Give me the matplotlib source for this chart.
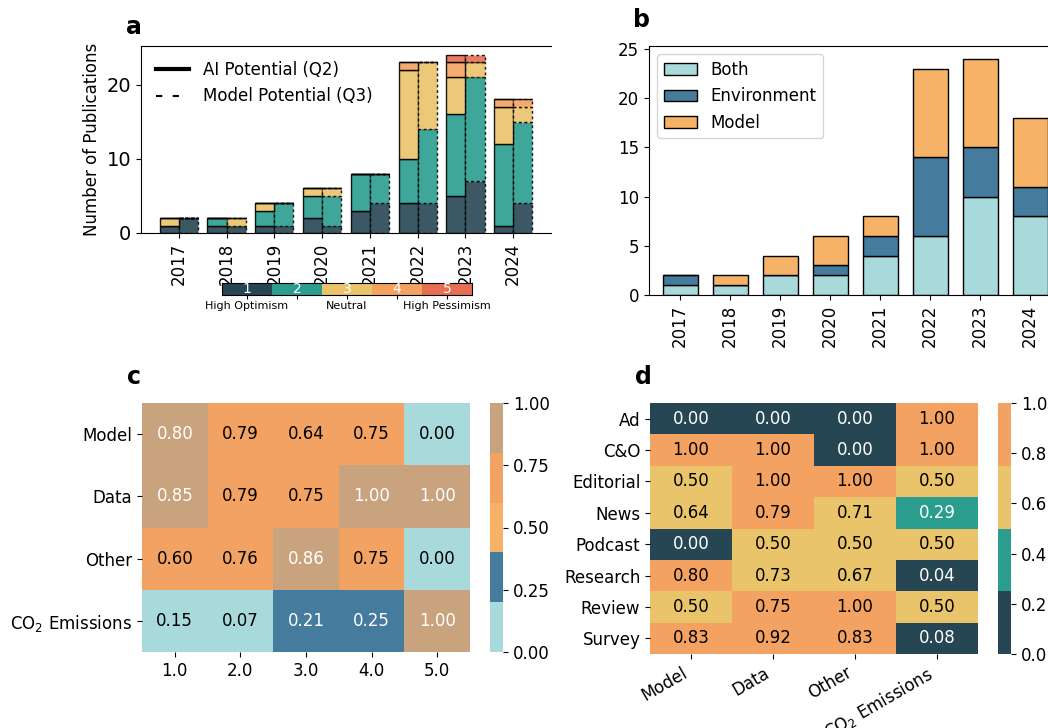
import numpy as np
import matplotlib
matplotlib.use("Agg")
import matplotlib.pyplot as plt
from matplotlib.colors import ListedColormap
from matplotlib.lines import Line2D

plt.rcParams['font.family'] = ['DejaVu Sans']
plt.rcParams['font.size'] = 12

# ---- data ----
years = [2017, 2018, 2019, 2020, 2021, 2022, 2023, 2024]

# panel a: counts per sentiment level (1..5)
ai_q2_1 = [1, 1, 1, 2, 3, 4, 5, 1]
ai_q2_2 = [0, 1, 2, 3, 5, 6, 11, 11]
ai_q2_3 = [1, 0, 1, 1, 0, 12, 5, 5]
ai_q2_4 = [0, 0, 0, 0, 0, 1, 2, 1]
ai_q2_5 = [0, 0, 0, 0, 0, 0, 1, 0]

model_q3_1 = [2, 1, 1, 1, 4, 4, 7, 4]
model_q3_2 = [0, 0, 3, 4, 4, 10, 14, 11]
model_q3_3 = [0, 1, 0, 1, 0, 9, 2, 2]
model_q3_4 = [0, 0, 0, 0, 0, 0, 0, 1]
model_q3_5 = [0, 0, 0, 0, 0, 0, 1, 0]

sentiment_levels = [1, 2, 3, 4, 5]
sentiment_labels = ['High Optimism', '', 'Neutral', '', 'High Pessimism']

# panel b
focus_both = [1, 1, 2, 2, 4, 6, 10, 8]
focus_env = [1, 0, 0, 1, 2, 8, 5, 3]
focus_model = [0, 1, 2, 3, 2, 9, 9, 7]

# panel c
c_rows = ['Model', 'Data', 'Other', 'CO$_2$ Emissions']
c_cols = ['1.0', '2.0', '3.0', '4.0', '5.0']
c_model = [0.80, 0.79, 0.64, 0.75, 0.00]
c_data = [0.85, 0.79, 0.75, 1.00, 1.00]
c_other = [0.60, 0.76, 0.86, 0.75, 0.00]
c_co2 = [0.15, 0.07, 0.21, 0.25, 1.00]

# panel d
d_rows = ['Ad', 'C&O', 'Editorial', 'News', 'Podcast', 'Research', 'Review', 'Survey']
d_cols = ['Model', 'Data', 'Other', 'CO$_2$ Emissions']
d_ad = [0.00, 0.00, 0.00, 1.00]
d_co = [1.00, 1.00, 0.00, 1.00]
d_editorial = [0.50, 1.00, 1.00, 0.50]
d_news = [0.64, 0.79, 0.71, 0.29]
d_podcast = [0.00, 0.50, 0.50, 0.50]
d_research = [0.80, 0.73, 0.67, 0.04]
d_review = [0.50, 0.75, 1.00, 0.50]
d_survey = [0.83, 0.92, 0.83, 0.08]

# ---- colours ----
sent_colors = ['#264653', '#2A9D8F', '#E9C46A', '#F4A261', '#E76F51']
focus_colors = ['#A8DADC', '#457B9D', '#F6B266']
c_colors = ['#A8DADC', '#457B9D', '#F6B266', '#F2A262', '#C9A27E']
c_text = ['black', 'white', 'black', 'black', 'white']
d_colors = ['#264653', '#2A9D8F', '#E9C46A', '#F4A261']
d_text = ['white', 'white', 'black', 'black']

W, H = 1048, 728
fig = plt.figure(figsize=(W / 100, H / 100), dpi=100)


def px(left, top, right, bottom):
    return [left / W, 1 - bottom / H, (right - left) / W, (bottom - top) / H]


# ---- panel a ----
ax_a = fig.add_axes(px(141, 46, 551, 233))
x = np.arange(len(years))
ai = [ai_q2_1, ai_q2_2, ai_q2_3, ai_q2_4, ai_q2_5]
mq = [model_q3_1, model_q3_2, model_q3_3, model_q3_4, model_q3_5]
bottom_ai = np.zeros(len(years))
bottom_mq = np.zeros(len(years))
for i in range(5):
    ax_a.bar(x - 0.2, ai[i], 0.4, bottom=bottom_ai, color=sent_colors[i], alpha=0.9,
             edgecolor='black', linewidth=1)
    ax_a.bar(x + 0.2, mq[i], 0.4, bottom=bottom_mq, color=sent_colors[i], alpha=0.9,
             edgecolor='black', linewidth=1, linestyle=(0, (2, 2)))
    bottom_ai += np.array(ai[i])
    bottom_mq += np.array(mq[i])
ax_a.set_xticks(x)
ax_a.set_xticklabels(years, rotation=90)
ax_a.tick_params(axis='y', labelsize=14)
ax_a.set_ylabel('Number of Publications')
ax_a.spines['right'].set_visible(False)
handles = [Line2D([0], [0], color='black', lw=3),
           Line2D([0], [0], color='black', lw=1.5, linestyle=(0, (3, 5)))]
ax_a.legend(handles, ['AI Potential (Q2)', 'Model Potential (Q3)'], loc='upper left',
            frameon=False)

# sentiment colour key
ax_k = fig.add_axes(px(222, 283, 472, 295))
ax_k.imshow([sentiment_levels], cmap=ListedColormap(sent_colors), aspect='auto',
            extent=(0.5, 5.5, 0, 1))
for lv in sentiment_levels:
    ax_k.text(lv, 0.5, str(lv), color='white', ha='center', va='center', fontsize=10)
ax_k.set_xticks(sentiment_levels)
ax_k.set_xticklabels(sentiment_labels, fontsize=8)
ax_k.tick_params(axis='x', length=3, pad=1)
ax_k.set_yticks([])

# ---- panel b ----
ax_b = fig.add_axes(px(649, 46, 1061, 295))
ax_b.bar(x, focus_both, 0.7, color=focus_colors[0], edgecolor='black', label='Both')
ax_b.bar(x, focus_env, 0.7, bottom=focus_both, color=focus_colors[1], edgecolor='black',
         label='Environment')
ax_b.bar(x, focus_model, 0.7, bottom=np.array(focus_both) + np.array(focus_env),
         color=focus_colors[2], edgecolor='black', label='Model')
ax_b.set_xlim(-0.62, 7.62)
ax_b.set_ylim(0, 25.3)
ax_b.set_xticks(x)
ax_b.set_xticklabels(years, rotation=90)
ax_b.set_yticks([0, 5, 10, 15, 20, 25])
ax_b.legend(loc='upper left')


# ---- heatmaps ----
def heatmap(ax, cax, rows, cols, values, colors, text_colors, ticks, fmt):
    vals = np.array(values)
    n = len(colors)
    im = ax.pcolormesh(vals, cmap=ListedColormap(colors), vmin=0, vmax=1)
    ax.set_xlim(0, vals.shape[1])
    ax.set_ylim(vals.shape[0], 0)
    for r in range(vals.shape[0]):
        for c in range(vals.shape[1]):
            k = min(int(vals[r, c] * n), n - 1)
            ax.text(c + 0.5, r + 0.5, f'{vals[r, c]:.2f}', ha='center', va='center',
                    color=text_colors[k], fontsize=12)
    ax.set_xticks(np.arange(vals.shape[1]) + 0.5)
    ax.set_xticklabels(cols)
    ax.set_yticks(np.arange(vals.shape[0]) + 0.5)
    ax.set_yticklabels(rows)
    for s in ax.spines.values():
        s.set_visible(False)
    cb = fig.colorbar(im, cax=cax, ticks=ticks, format=fmt)
    cb.outline.set_visible(False)
    return ax


ax_c = fig.add_axes(px(142, 403, 470, 652))
cax_c = fig.add_axes(px(490, 403, 503, 652))
heatmap(ax_c, cax_c, c_rows, c_cols, [c_model, c_data, c_other, c_co2],
        c_colors, c_text, [0, 0.25, 0.5, 0.75, 1.0], '%.2f')

ax_d = fig.add_axes(px(650, 403, 978, 654))
cax_d = fig.add_axes(px(998, 403, 1011, 654))
heatmap(ax_d, cax_d, d_rows, d_cols,
        [d_ad, d_co, d_editorial, d_news, d_podcast, d_research, d_review, d_survey],
        d_colors, d_text, [0, 0.2, 0.4, 0.6, 0.8, 1.0], '%.1f')
plt.setp(ax_d.get_xticklabels(), rotation=30, ha='right')

# ---- panel letters ----
fig.text(126 / W, 1 - 34 / H, 'a', fontsize=17, fontweight='bold')
fig.text(633 / W, 1 - 27 / H, 'b', fontsize=17, fontweight='bold')
fig.text(127 / W, 1 - 384 / H, 'c', fontsize=17, fontweight='bold')
fig.text(635 / W, 1 - 384 / H, 'd', fontsize=17, fontweight='bold')

fig.savefig('out.png', dpi=100)
